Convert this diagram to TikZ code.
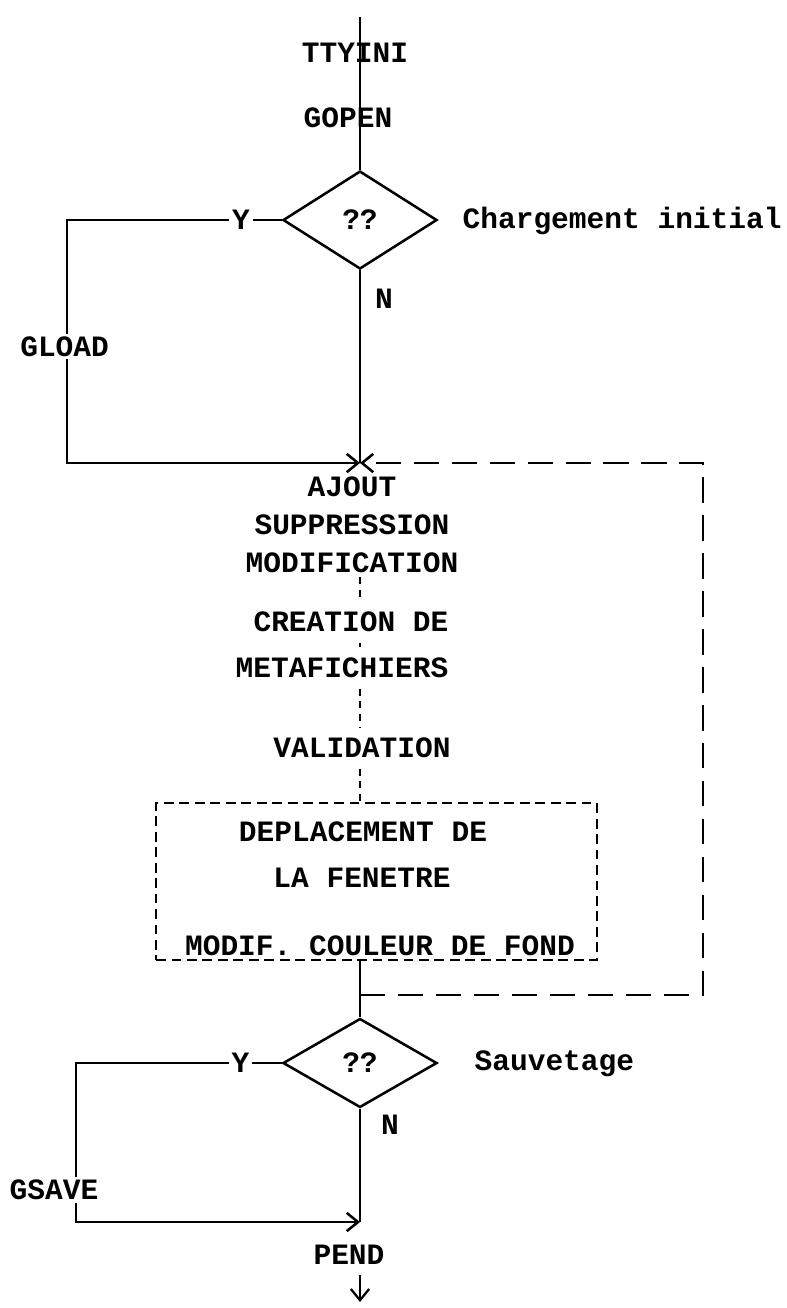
\documentclass[tikz,border=0pt]{standalone}
\usepackage{fontspec}
\setmonofont{Liberation Mono}
\usetikzlibrary{shapes.geometric, arrows.meta}

\begin{document}
\begin{tikzpicture}[x=0.0125cm, y=-0.0125cm, line width=0.9pt,
    font=\ttfamily\bfseries\fontsize{10.5}{12}\selectfont,
    >={Straight Barb[length=4pt,width=6.5pt]},
    lbl/.style={fill=white, inner sep=1pt},
    dec/.style={draw, diamond, inner sep=0pt, minimum width=1.925cm, minimum height=1.225cm},
    back/.style={dash pattern=on 9pt off 4.5pt},
    frame/.style={draw, line width=0.8pt, dash pattern=on 3.5pt off 2pt, minimum width=5.51cm, minimum height=1.96cm},
    thin/.style={line width=0.7pt, dash pattern=on 2.5pt off 2pt}]
    \useasboundingbox (0,0) rectangle (787,1308);

    % top of the chart
    \coordinate (top) at (360,17);
    \node (ttyini) at (355,53) {TTYINI};
    \node (gopen) at (348,118) {GOPEN};
    \node[dec] (q1) at (360,220) {??};
    \node[anchor=west] (chg) at (452,221) {Chargement initial};
    \node (n1) at (384,299) {N};
    \draw (top) -- (q1.north);

    \coordinate (c1) at (67,220);
    \coordinate (join) at (360,463);
    \draw[->] (q1.west) -- node[pos=.19, lbl] {Y} (c1) -- node[pos=.52, lbl, xshift=-0.03cm] {GLOAD} (c1 |- join) -- (join);
    \draw (q1.south) -- (join);

    % edition
    \node[align=center, inner sep=1pt] (edit) at (352,525) {AJOUT\\[1.6pt]SUPPRESSION\\[1.6pt]MODIFICATION};
    \node (creat) at (351,622) {CREATION DE};
    \node (meta) at (342,668) {METAFICHIERS};
    \node (valid) at (362,748) {VALIDATION};
    \node[frame] (box) at (376.5,881.5) {};
    \node (depl) at (363,832) {DEPLACEMENT DE};
    \node (fen) at (362,878) {LA FENETRE};
    \node (fond) at (380,946) {MODIF. COULEUR DE FOND};

    \draw[thin] (edit.south -| join) -- (creat.north -| join);
    \draw[thin] (creat.south -| join) -- (meta.north -| join);
    \draw[thin] (meta.south -| join) -- (valid.north -| join);
    \draw[thin] (valid.south -| join) -- (box.north -| join);

    % retour
    \node[dec, minimum height=1.1125cm] (q2) at (360,1063) {??};
    \node[anchor=west] (sauv) at (464,1064) {Sauvetage};
    \node (n2) at (390,1125) {N};
    \coordinate (lp) at (360,995);
    \coordinate (lr) at (703,995);
    \draw (box.south -| join) -- (q2.north);
    \draw[back, ->] (lp) -- (lr) |- (join);

    \coordinate (c2) at (76,1063);
    \coordinate (join2) at (360,1222);
    \draw[->] (q2.west) -- node[pos=.2, lbl] {Y} (c2) -- node[pos=.8, lbl, xshift=-0.275cm] {GSAVE} (c2 |- join2) -- (join2);
    \draw (q2.south) -- (join2);

    \node (pend) at (349,1255) {PEND};
    \coordinate (fin) at (360,1302);
    \draw[->, line width=0.8pt] (pend.south -| fin) -- (fin);
\end{tikzpicture}
\end{document}
